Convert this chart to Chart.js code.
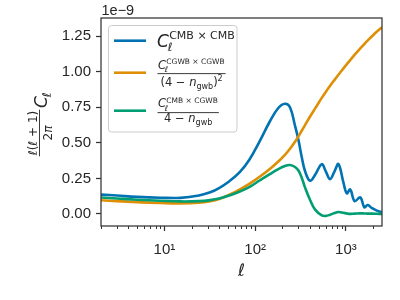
<!DOCTYPE html>
<html>
<head>
<meta charset="utf-8">
<script src="https://cdn.jsdelivr.net/npm/chart.js@4.4.1/dist/chart.umd.min.js"></script>
<style>
  body { margin: 0; background: #fff; }
</style>
</head>
<body>
<canvas id="c" width="400" height="300"></canvas>
<script>
// multipoles and the three spectra (units of 1e-9)
const ell = [2, 3, 5, 9, 15, 24, 32, 40, 52, 68, 87, 112, 145, 180, 213, 242, 275, 300, 326, 355,
  403, 458, 542, 600, 670, 750, 828, 940, 1025, 1116, 1250, 1440, 1595, 1735, 1940, 2200, 2500];
const clCmb = [0.136, 0.129, 0.12, 0.114, 0.113, 0.13, 0.152, 0.182, 0.23, 0.295, 0.385, 0.51, 0.65, 0.745, 0.775, 0.75, 0.62, 0.52, 0.40, 0.30,
  0.233, 0.275, 0.35, 0.30, 0.245, 0.30, 0.35, 0.22, 0.145, 0.172, 0.09, 0.117, 0.047, 0.063, 0.04, 0.023, 0.01];
const clCgwb = [0.096, 0.09, 0.083, 0.077, 0.074, 0.079, 0.09, 0.105, 0.135, 0.173, 0.213, 0.261, 0.316, 0.369, 0.415, 0.458, 0.507, 0.545, 0.585, 0.625,
  0.685, 0.742, 0.816, 0.858, 0.901, 0.943, 0.979, 1.024, 1.054, 1.082, 1.12, 1.164, 1.195, 1.219, 1.25, 1.283, 1.313];
const clCross = [0.115, 0.108, 0.1, 0.093, 0.088, 0.09, 0.097, 0.108, 0.13, 0.158, 0.19, 0.235, 0.28, 0.315, 0.337, 0.344, 0.33, 0.305, 0.255, 0.185,
  0.098, 0.03, -0.01, -0.014, -0.006, 0.006, 0.013, 0.008, 0.003, 0, 0.002, 0.004, 0.003, 0.002, 0.002, 0.001, 0];

const yTicks = [0, 0.25, 0.5, 0.75, 1.0, 1.25];
const xTicks = [2, 3, 4, 5, 6, 7, 8, 9, 10, 20, 30, 40, 50, 60, 70, 80, 90, 100,
  200, 300, 400, 500, 600, 700, 800, 900, 1000, 2000];
const xTickLabels = { 10: '10\u00b9', 100: '10\u00b2', 1000: '10\u00b3' };

const BLUE = '#0173b2', ORANGE = '#de8f05', GREEN = '#029e73';
const INK = '#262626', SPINE = '#333333';
const MF = "'DejaVu Sans'";

const isDecade = v => xTickLabels[v] !== undefined;
const pts = ys => ell.map((l, i) => ({ x: l, y: ys[i] }));

function fnt(size, it) {
  return (it ? 'italic ' : '') + size + 'px ' + MF;
}
function runWidth(ctx, runs) {
  let w = 0;
  runs.forEach(r => { ctx.font = fnt(r.s, r.i); w += ctx.measureText(r.t).width; });
  return w;
}
function putRuns(ctx, runs, x, y) {
  runs.forEach(r => {
    ctx.font = fnt(r.s, r.i);
    ctx.fillText(r.t, x, y + (r.dy || 0));
    x += ctx.measureText(r.t).width;
  });
  return x;
}
// C_l^{sup}
function cl(ctx, x, y, size, sup, supSize, subSize, supDy, subDy) {
  ctx.font = fnt(size, true);
  ctx.fillText('C', x, y);
  const x1 = x + ctx.measureText('C').width;
  ctx.font = fnt(supSize, false);
  ctx.fillText(sup, x1 + 0.3, y + supDy);
  const end = x1 + 0.3 + ctx.measureText(sup).width;
  ctx.font = fnt(subSize, true);
  ctx.fillText('\u2113', x1 - 1.2, y + subDy);
  return end;
}

const decor = {
  id: 'decor',
  afterDraw(chart) {
    const ctx = chart.ctx;
    const a = chart.chartArea;
    const xs = chart.scales.x;
    ctx.save();

    // spines
    ctx.strokeStyle = SPINE;
    ctx.lineWidth = 1.25;
    ctx.strokeRect(a.left, a.top, a.right - a.left, a.bottom - a.top);

    // minor x ticks
    ctx.lineWidth = 1;
    xTicks.filter(v => !isDecade(v)).forEach(v => {
      const px = Math.round(xs.getPixelForValue(v)) + 0.5;
      ctx.beginPath();
      ctx.moveTo(px, a.bottom);
      ctx.lineTo(px, a.bottom + 3);
      ctx.stroke();
    });

    ctx.fillStyle = INK;
    ctx.textBaseline = 'alphabetic';

    // offset text
    ctx.font = "14.5px 'Liberation Sans'";
    ctx.textAlign = 'left';
    ctx.fillText('1e\u22129', 101.5, 15);

    // x title
    ctx.font = fnt(17, true);
    ctx.textAlign = 'center';
    ctx.fillText('\u2113', (a.left + a.right) / 2, 276);

    // y title, rotated
    ctx.save();
    ctx.translate(40, (a.top + a.bottom) / 2);
    ctx.rotate(-Math.PI / 2);
    ctx.textAlign = 'left';
    const num = [{ t: '\u2113', s: 12, i: true }, { t: '(', s: 12 }, { t: '\u2113', s: 12, i: true }, { t: ' + 1)', s: 12 }];
    const nw = runWidth(ctx, num);
    putRuns(ctx, num, -11 - nw / 2, -3.5);
    const den = [{ t: '2', s: 12 }, { t: '\u03c0', s: 12, i: true }];
    const dw = runWidth(ctx, den);
    putRuns(ctx, den, -11 - dw / 2, 11.5);
    ctx.fillRect(-11 - nw / 2 - 1, -1, nw + 2, 0.9);
    cl(ctx, 14, 6.5, 17, '', 1, 12, 0, 4);
    ctx.restore();

    // legend
    ctx.beginPath();
    ctx.roundRect(108.5, 25.5, 128.5, 106.5, 3);
    ctx.fillStyle = 'rgba(255,255,255,0.8)';
    ctx.fill();
    ctx.strokeStyle = '#cccccc';
    ctx.lineWidth = 1;
    ctx.stroke();

    [[BLUE, 40.7], [ORANGE, 72.7], [GREEN, 110.7]].forEach(([c, y]) => {
      ctx.strokeStyle = c;
      ctx.lineWidth = 2.6;
      ctx.beginPath();
      ctx.moveTo(114, y);
      ctx.lineTo(146, y);
      ctx.stroke();
    });

    ctx.fillStyle = INK;
    ctx.textAlign = 'left';
    cl(ctx, 157, 47, 17, 'CMB \u00d7 CMB', 11, 11.5, -8, 4);

    // second entry
    let e = cl(ctx, 158, 68.5, 11.5, 'CGWB \u00d7 CGWB', 7.5, 8, -4.5, 3.5);
    const d2 = [{ t: '(4 \u2212 ', s: 11.5 }, { t: 'n', s: 11.5, i: true }, { t: 'gwb', s: 8, dy: 3 }, { t: ')', s: 11.5 }, { t: '2', s: 8, dy: -5.5 }];
    const w2 = runWidth(ctx, d2);
    let right = Math.max(e, 158 + w2) + 1;
    ctx.fillRect(157.5, 73.2, right - 157.5, 0.9);
    putRuns(ctx, d2, (157.5 + right) / 2 - w2 / 2, 86);

    // third entry
    e = cl(ctx, 158, 107, 11.5, 'CMB \u00d7 CGWB', 7.5, 8, -4.5, 3.5);
    const d3 = [{ t: '4 \u2212 ', s: 11.5 }, { t: 'n', s: 11.5, i: true }, { t: 'gwb', s: 8, dy: 3 }];
    const w3 = runWidth(ctx, d3);
    right = Math.max(e, 158 + w3) + 1;
    ctx.fillRect(157.5, 112.2, right - 157.5, 0.9);
    putRuns(ctx, d3, (157.5 + right) / 2 - w3 / 2, 121.5);

    ctx.restore();
  }
};

const line = (data, color, order) => ({
  data: pts(data),
  borderColor: color,
  borderWidth: 2.6,
  pointRadius: 0,
  fill: false,
  clip: 0,
  order: order,
  tension: 0.4
});

new Chart(document.getElementById('c').getContext('2d'), {
  type: 'line',
  data: {
    datasets: [
      line(clCmb, BLUE, 3),
      line(clCgwb, ORANGE, 2),
      line(clCross, GREEN, 1)
    ]
  },
  options: {
    responsive: false,
    animation: false,
    devicePixelRatio: 1,
    layout: { padding: { top: 18, right: 18, left: 0, bottom: 0 } },
    plugins: { legend: { display: false }, tooltip: { enabled: false } },
    scales: {
      x: {
        type: 'logarithmic',
        min: 2,
        max: 2500,
        afterFit: s => { s.height = 74; },
        afterBuildTicks: s => { s.ticks = xTicks.map(v => ({ value: v, major: isDecade(v) })); },
        border: { display: false },
        grid: {
          drawOnChartArea: false,
          tickLength: 5,
          tickWidth: 1.25,
          tickColor: c => (c.tick && isDecade(c.tick.value)) ? SPINE : 'rgba(0,0,0,0)'
        },
        ticks: {
          autoSkip: false,
          maxRotation: 0,
          padding: 10,
          color: INK,
          font: { family: 'Liberation Sans', size: 15 },
          callback: v => xTickLabels[v] || ''
        }
      },
      y: {
        min: -0.085,
        max: 1.378,
        afterFit: s => { s.width = 101; },
        afterBuildTicks: s => { s.ticks = yTicks.map(v => ({ value: v })); },
        border: { display: false },
        grid: { drawOnChartArea: false, tickLength: 5, tickWidth: 1.25, tickColor: SPINE },
        ticks: {
          padding: 5,
          color: INK,
          font: { family: 'Liberation Sans', size: 15 },
          callback: v => v.toFixed(2)
        }
      }
    }
  },
  plugins: [decor]
});
</script>
</body>
</html>
